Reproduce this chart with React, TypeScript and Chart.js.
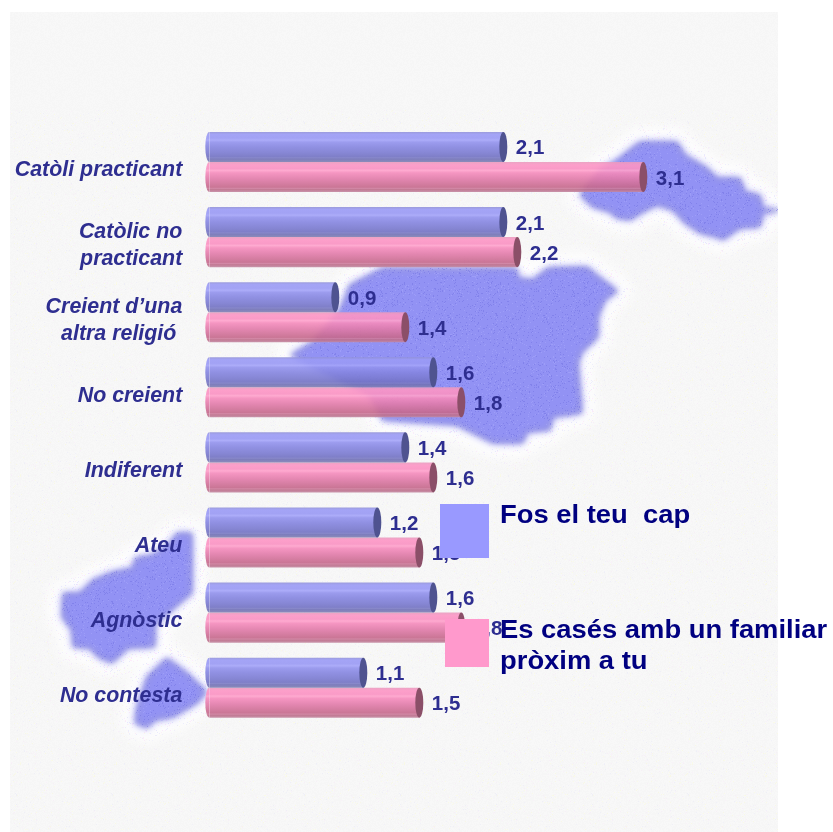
import React, { useEffect, useRef } from "react";
import { Chart, registerables } from "chart.js";

Chart.register(...registerables);

// ---- data ----
const categories: (string | string[])[] = [
  "Catòli practicant",
  ["Catòlic no", "practicant"],
  ["Creient d’una", "altra religió "],
  "No creient",
  "Indiferent",
  "Ateu",
  "Agnòstic",
  "No contesta",
];
const fosElTeuCap = [2.1, 2.1, 0.9, 1.6, 1.4, 1.2, 1.6, 1.1];
const esCasesFamiliar = [3.1, 2.2, 1.4, 1.8, 1.6, 1.5, 1.8, 1.5];
const legendBlueLines = ["Fos el teu  cap"];
const legendPinkLines = ["Es casés amb un familiar", "pròxim a tu"];

// ---- styles ----
const FONT = '"Liberation Sans", Arial, sans-serif';
const TEXT_COLOR = "#2e2e90";
const LEGEND_COLOR = "#000080";
const BLUE_STOPS: [number, string][] = [
  [0, "#9c9cdc"], [0.08, "#a4a4f6"], [0.2, "#a2a2f4"], [0.27, "#acacf9"], [0.34, "#9c9cee"],
  [0.5, "#9090e2"], [0.7, "#8686d4"], [0.82, "#7f7fc8"], [0.86, "#8888ca"], [0.9, "#7d7dbc"], [1, "#8c8cba"],
];
const PINK_STOPS: [number, string][] = [
  [0, "#eaa4c4"], [0.1, "#fc9fca"], [0.22, "#fa9bc7"], [0.28, "#ffaad0"], [0.36, "#f596c2"],
  [0.55, "#e487b2"], [0.75, "#d27c9f"], [0.84, "#ca7696"], [0.88, "#d288a6"], [0.92, "#c27a94"], [1, "#c894aa"],
];
const BLUE_CAP = "#4f5390";
const PINK_CAP = "#8b4f68";
const BAR_ALPHA = 0.9;
const BLOB_TOP_RIGHT = [[617,160],[632,148],[640,142],[677,142],[685,155],[707,168],[717,178],[740,178],[745,192],[760,195],[763,208],[778,209],[778,212],[763,213],[760,227],[740,228],[723,240],[717,237],[700,233],[685,223],[673,210],[657,205],[643,212],[630,220],[617,218],[610,212],[593,207],[580,195],[600,170]];
const BLOB_MIDDLE = [[383,268],[517,268],[518,278],[533,280],[548,268],[587,267],[603,280],[618,291],[605,300],[598,317],[598,337],[582,352],[578,363],[582,413],[553,417],[550,430],[527,432],[523,443],[493,443],[473,433],[457,425],[383,420],[370,395],[290,355],[313,342],[340,310],[350,285]];
const BLOB_LEFT = [[177,533],[192,533],[192,593],[180,603],[155,625],[155,647],[128,648],[112,663],[98,657],[90,648],[73,647],[72,630],[62,617],[63,593],[80,593],[93,580],[113,572],[133,568],[135,558],[153,555],[170,543]];
const BLOB_SMALL = [[167,658],[187,673],[207,692],[197,703],[173,717],[155,720],[147,728],[135,723],[137,707],[147,677]];

function hashTile(size: number, paint: (c: CanvasRenderingContext2D, x: number, y: number, r: number) => void) {
  const tile = document.createElement("canvas");
  tile.width = tile.height = size;
  const c = tile.getContext("2d")!;
  let seed = 12345;
  for (let y = 0; y < size; y++) {
    for (let x = 0; x < size; x++) {
      seed = (seed * 1103515245 + 12345) & 0x7fffffff;
      paint(c, x, y, (seed >> 8) % 1000);
    }
  }
  return tile;
}

function blobPath(ctx: CanvasRenderingContext2D, pts: number[][]) {
  ctx.beginPath();
  pts.forEach(([x, y], i) => (i ? ctx.lineTo(x, y) : ctx.moveTo(x, y)));
  ctx.closePath();
}

// Colour that gives the wanted tone once laid at BAR_ALPHA over the near-white paper.
function glassColor(hex: string) {
  const n = parseInt(hex.slice(1), 16);
  const ch = [(n >> 16) & 255, (n >> 8) & 255, n & 255].map((v) =>
    Math.max(0, Math.round((v - (1 - BAR_ALPHA) * 246) / BAR_ALPHA))
  );
  return `rgba(${ch[0]},${ch[1]},${ch[2]},${BAR_ALPHA})`;
}

const backdropPlugin = {
  id: "backdrop",
  beforeDraw(chart: any) {
    const ctx: CanvasRenderingContext2D = chart.ctx;
    const blobs = [BLOB_TOP_RIGHT, BLOB_MIDDLE, BLOB_LEFT, BLOB_SMALL];
    ctx.save();
    ctx.fillStyle = "#ffffff";
    ctx.fillRect(0, 0, 833, 832);
    ctx.beginPath();
    ctx.rect(10, 12, 768, 820);
    ctx.clip();
    const paper = hashTile(64, (c, x, y, r) => {
      c.fillStyle = r < 500 ? "#f8f8f8" : "#f6f6f6";
      c.fillRect(x, y, 1, 1);
    });
    ctx.fillStyle = ctx.createPattern(paper, "repeat")!;
    ctx.fillRect(10, 12, 768, 820);
    const faint = hashTile(96, (c, x, y, r) => {
      if (r < 40) {
        c.fillStyle = r < 13 ? "rgba(255,210,255,0.18)" : r < 26 ? "rgba(210,210,255,0.18)" : "rgba(255,255,190,0.28)";
        c.fillRect(x, y, 1, 1);
      }
    });
    ctx.fillStyle = ctx.createPattern(faint, "repeat")!;
    ctx.fillRect(10, 110, 768, 722);

    // white halo with pastel speckle around the map shapes
    const layer = document.createElement("canvas");
    layer.width = 833;
    layer.height = 832;
    const lc = layer.getContext("2d")!;
    lc.filter = "blur(8px)";
    lc.fillStyle = "#ffffff";
    lc.strokeStyle = "#ffffff";
    lc.lineWidth = 26;
    lc.lineJoin = "round";
    blobs.forEach((b) => { blobPath(lc, b); lc.fill(); lc.stroke(); });
    lc.filter = "none";
    lc.globalCompositeOperation = "source-atop";
    const halo = hashTile(96, (c, x, y, r) => {
      if (r < 90) {
        c.fillStyle = r < 35 ? "rgba(255,200,255,0.4)" : r < 75 ? "rgba(195,195,255,0.4)" : "rgba(255,255,190,0.4)";
        c.fillRect(x, y, 1, 1);
      }
    });
    lc.fillStyle = lc.createPattern(halo, "repeat")!;
    lc.fillRect(0, 0, 833, 832);
    ctx.drawImage(layer, 0, 0);

    // map shapes: soft grey-blue rim, brighter body, fine darker dots
    ctx.filter = "blur(2.5px)";
    ctx.fillStyle = "#9a9ad4";
    blobs.forEach((b) => { blobPath(ctx, b); ctx.fill(); });
    ctx.filter = "blur(5px)";
    ctx.fillStyle = "#9292f4";
    blobs.forEach((b) => { blobPath(ctx, b); ctx.fill(); });
    ctx.filter = "none";
    const dots = hashTile(96, (c, x, y, r) => {
      if (r < 110) {
        c.fillStyle = r < 65 ? "rgba(110,110,225,0.45)" : "rgba(175,175,255,0.4)";
        c.fillRect(x, y, 1, 1);
      }
    });
    blobs.forEach((b) => {
      ctx.save();
      blobPath(ctx, b);
      ctx.clip();
      ctx.fillStyle = ctx.createPattern(dots, "repeat")!;
      ctx.fillRect(10, 12, 768, 820);
      ctx.restore();
    });
    ctx.restore();
  },
};

const cylinderPlugin = {
  id: "cylinder",
  beforeDatasetsDraw(chart: any) {
    const ctx: CanvasRenderingContext2D = chart.ctx;
    chart.data.datasets.forEach((_: any, i: number) => {
      chart.getDatasetMeta(i).data.forEach((el: any) => {
        ctx.save();
        ctx.fillStyle = el.options.backgroundColor;
        ctx.beginPath();
        ctx.ellipse(el.base, el.y, 4, el.height / 2, 0, Math.PI / 2, (3 * Math.PI) / 2);
        ctx.fill();
        ctx.restore();
      });
    });
  },
  afterDatasetsDraw(chart: any) {
    const ctx: CanvasRenderingContext2D = chart.ctx;
    chart.data.datasets.forEach((ds: any, i: number) => {
      chart.getDatasetMeta(i).data.forEach((el: any, j: number) => {
        ctx.save();
        ctx.fillStyle = ds.capColor;
        ctx.beginPath();
        ctx.ellipse(el.x, el.y, 4, el.height / 2, 0, 0, Math.PI * 2);
        ctx.fill();
        ctx.fillStyle = TEXT_COLOR;
        ctx.font = `bold 20.5px ${FONT}`;
        ctx.textAlign = "left";
        ctx.textBaseline = "alphabetic";
        ctx.fillText(String(ds.data[j]).replace(".", ","), el.x + 12.5, el.y + 7.5);
        ctx.restore();
      });
    });
  },
};

const legendPlugin = {
  id: "cornerLegend",
  afterDraw(chart: any) {
    const ctx: CanvasRenderingContext2D = chart.ctx;
    const rows = [
      { color: "#9999ff", box: [440, 504, 49, 54], lines: legendBlueLines, base: 522.5 },
      { color: "#ff99cc", box: [445, 619, 44, 48], lines: legendPinkLines, base: 637.5 },
    ];
    ctx.save();
    rows.forEach((r) => {
      ctx.fillStyle = r.color;
      ctx.fillRect(r.box[0], r.box[1], r.box[2], r.box[3]);
    });
    ctx.fillStyle = LEGEND_COLOR;
    ctx.font = `bold 25px ${FONT}`;
    ctx.textBaseline = "alphabetic";
    const stretch = 1.095;
    rows.forEach((r) => {
      r.lines.forEach((t, k) => {
        ctx.save();
        ctx.translate(500, r.base + k * 31);
        ctx.scale(stretch, 1);
        ctx.fillText(t, 0, 0);
        ctx.restore();
      });
    });
    ctx.restore();
  },
};

function cylinderFill(stops: [number, string][]) {
  return (context: any) => {
    const chart = context.chart;
    const yScale = chart.scales.y;
    if (!yScale || context.dataIndex === undefined) return stops[3][1];
    const centre = yScale.getPixelForValue(context.dataIndex);
    if (!Number.isFinite(centre)) return stops[3][1];
    const first = context.datasetIndex === 0;
    const top = first ? centre - 30 : centre;
    const g = chart.ctx.createLinearGradient(0, top, 0, top + 30);
    stops.forEach(([o, col]) => g.addColorStop(o, glassColor(col)));
    return g;
  };
}

export default function App() {
  const ref = useRef<HTMLCanvasElement>(null);
  useEffect(() => {
    const chart = new Chart(ref.current!, {
      type: "bar",
      data: {
        labels: categories as any,
        datasets: [
          { label: legendBlueLines.join(" "), data: fosElTeuCap, backgroundColor: cylinderFill(BLUE_STOPS), capColor: BLUE_CAP } as any,
          { label: legendPinkLines.join(" "), data: esCasesFamiliar, backgroundColor: cylinderFill(PINK_STOPS), capColor: PINK_CAP } as any,
        ],
      },
      options: {
        indexAxis: "y",
        responsive: false,
        animation: false,
        datasets: { bar: { categoryPercentage: 0.8, barPercentage: 1, borderWidth: 0 } },
        layout: { padding: { top: 124.45, bottom: 106.75, left: 0, right: 63.7 } },
        plugins: { legend: { display: false }, title: { display: false }, tooltip: { enabled: false } },
        scales: {
          x: { display: false, min: 0, max: 4 },
          y: {
            grid: { display: false, drawTicks: false },
            border: { display: false },
            afterFit: (s: any) => { s.width = 209.3; },
            ticks: {
              padding: 27,
              labelOffset: 8.5,
              color: TEXT_COLOR,
              font: { family: FONT, size: 21.4, weight: "bold", style: "italic", lineHeight: 1.26 },
            },
          },
        },
      } as any,
      plugins: [backdropPlugin, cylinderPlugin, legendPlugin],
    });
    return () => chart.destroy();
  }, []);
  return (
    <canvas
      ref={ref}
      width={833}
      height={832}
      style={{ position: "absolute", left: 0, top: 0, display: "block" }}
    />
  );
}
